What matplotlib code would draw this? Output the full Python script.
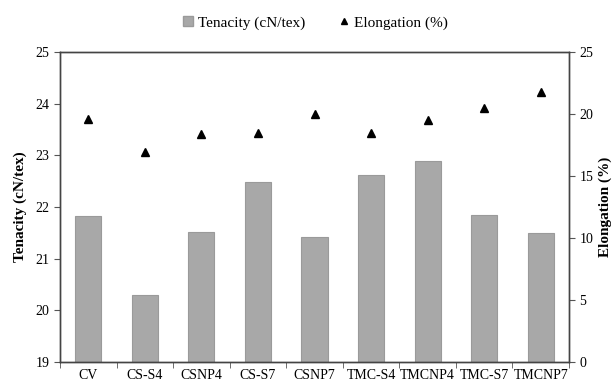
import matplotlib
matplotlib.use("Agg")
from matplotlib import pyplot as plt
from matplotlib.lines import Line2D
from matplotlib.patches import Patch
import numpy as np

plt.rcParams['font.family'] = ['Liberation Serif', 'DejaVu Serif']

samples = ["CV", "CS-S4", "CSNP4", "CS-S7", "CSNP7", "TMC-S4", "TMCNP4", "TMC-S7", "TMCNP7"]
tenacity = [21.83, 20.30, 21.52, 22.48, 21.41, 22.62, 22.90, 21.84, 21.49]
elongation = [19.6, 16.9, 18.4, 18.5, 20.0, 18.5, 19.5, 20.5, 21.8]

fig = plt.figure(figsize=(6.12, 3.83), dpi=100)
ax = fig.add_axes([60/612, 21/383, 509/612, 310/383])
x = np.arange(len(samples))

ax.bar(x, tenacity, width=0.46, bottom=0, color="#a8a8a8", edgecolor="#9a9a9a", linewidth=0.8, zorder=2)
ax.set_ylim(19, 25)
ax.set_xlim(-0.5, len(samples) - 0.5)
ax.set_yticks(range(19, 26))
ax.set_xticks(x)
ax.set_xticklabels(samples, fontsize=10)
ax.set_xticks(np.arange(-0.5, len(samples)), minor=True)
ax.tick_params(axis='x', which='major', length=0, pad=5)
ax.tick_params(axis='x', which='minor', length=4, color="#555555")
ax.tick_params(axis='y', length=4, color="#555555", labelsize=10)
ax.set_ylabel("Tenacity (cN/tex)", fontsize=11, fontweight='bold', labelpad=6)

ax2 = ax.twinx()
ax2.plot(x, elongation, linestyle='None', marker='^', markersize=6, color='black', zorder=3)
ax2.set_ylim(0, 25)
ax2.set_yticks(range(0, 26, 5))
ax2.tick_params(axis='y', length=4, color="#555555", labelsize=10)
ax2.set_ylabel("Elongation (%)", fontsize=11, fontweight='bold', labelpad=4)

for a in (ax, ax2):
    for s in a.spines.values():
        s.set_color("#444444")
        s.set_linewidth(1.0)

handles = [Patch(facecolor="#a8a8a8", edgecolor="#9a9a9a", label="Tenacity (cN/tex)"),
           Line2D([], [], linestyle='None', marker='^', color='black', markersize=5, label="Elongation (%)")]
fig.legend(handles=handles, loc='upper center', bbox_to_anchor=(0.515, 0.995), ncol=2, frameon=False,
           fontsize=11, handlelength=0.7, handleheight=0.7, handletextpad=0.3, columnspacing=2.2)

fig.savefig("out.png", dpi=100)
